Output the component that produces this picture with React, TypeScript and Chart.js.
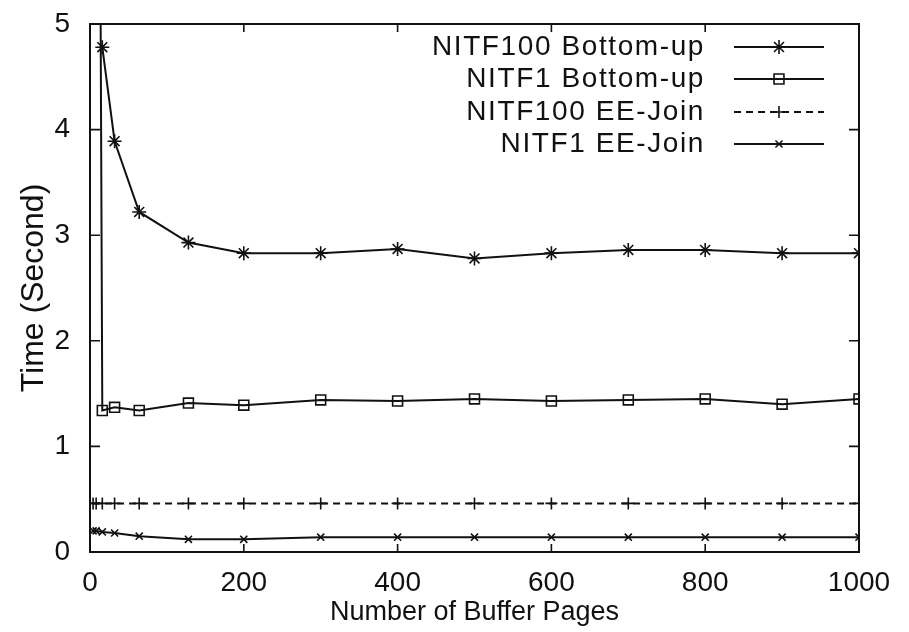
import React, { useEffect, useRef } from "react";
import { Chart, registerables } from "chart.js";

Chart.register(...registerables);

// ---- data ----
const xTickValues = [0, 200, 400, 600, 800, 1000];
const yTickValues = [0, 1, 2, 3, 4, 5];

const seriesLabels = [
  "NITF100 Bottom-up",
  "NITF1 Bottom-up",
  "NITF100 EE-Join",
  "NITF1 EE-Join",
];

const nitf100BottomUpX = [16, 32, 64, 128, 200, 300, 400, 500, 600, 700, 800, 900, 1000];
const nitf100BottomUpY = [4.78, 3.89, 3.22, 2.93, 2.83, 2.83, 2.87, 2.78, 2.83, 2.86, 2.86, 2.83, 2.83];

const nitf1BottomUpX = [8, 16, 32, 64, 128, 200, 300, 400, 500, 600, 700, 800, 900, 1000];
const nitf1BottomUpY = [15, 1.34, 1.37, 1.34, 1.41, 1.39, 1.44, 1.43, 1.45, 1.43, 1.44, 1.45, 1.4, 1.45];

const eeJoinX = [4, 8, 16, 32, 64, 128, 200, 300, 400, 500, 600, 700, 800, 900, 1000];
const nitf100EEJoinY = [0.46, 0.46, 0.46, 0.46, 0.46, 0.46, 0.46, 0.46, 0.46, 0.46, 0.46, 0.46, 0.46, 0.46, 0.46];
const nitf1EEJoinY = [0.2, 0.2, 0.19, 0.18, 0.15, 0.12, 0.12, 0.14, 0.14, 0.14, 0.14, 0.14, 0.14, 0.14, 0.14];

const xTitle = "Number of Buffer Pages";
const yTitle = "Time (Second)";

// ---- styles ----
const FONT = "'Liberation Sans', Arial, Helvetica, sans-serif";
const INK = "#111";
const W = 909;
const H = 632;
const AREA = { left: 90, right: 859, top: 24, bottom: 552 };

const pointStyles = ["star", "rect", "cross", "crossRot"] as const;
const pointRadii = [7, 7, 6, 5];
const dashes: number[][] = [[], [], [7, 5], []];

function pts(xs: number[], ys: number[]) {
  return xs.map((x, i) => ({ x, y: ys[i] }));
}

function drawMarker(ctx: CanvasRenderingContext2D, style: string, x: number, y: number, r: number) {
  ctx.beginPath();
  if (style === "star" || style === "cross") {
    ctx.moveTo(x - r, y);
    ctx.lineTo(x + r, y);
    ctx.moveTo(x, y - r);
    ctx.lineTo(x, y + r);
  }
  if (style === "star" || style === "crossRot") {
    const d = r * Math.SQRT1_2;
    ctx.moveTo(x - d, y - d);
    ctx.lineTo(x + d, y + d);
    ctx.moveTo(x - d, y + d);
    ctx.lineTo(x + d, y - d);
  }
  if (style === "rect") {
    const s = r * Math.SQRT1_2;
    ctx.rect(x - s, y - s, 2 * s, 2 * s);
  }
  ctx.stroke();
}

const framePlugin = {
  id: "gnuplotFrame",
  afterDatasetsDraw(chart: any) {
    const ctx: CanvasRenderingContext2D = chart.ctx;
    const { left, right, top, bottom } = chart.chartArea;
    const xs = chart.scales.x;
    const ys = chart.scales.y;
    ctx.save();
    ctx.strokeStyle = INK;
    ctx.lineWidth = 2;
    ctx.setLineDash([]);
    ctx.strokeRect(left, top, right - left, bottom - top);
    ctx.lineWidth = 1.6;
    ctx.beginPath();
    xTickValues.forEach((v) => {
      const px = xs.getPixelForValue(v);
      ctx.moveTo(px, bottom);
      ctx.lineTo(px, bottom - 8);
      ctx.moveTo(px, top);
      ctx.lineTo(px, top + 8);
    });
    yTickValues.forEach((v) => {
      const py = ys.getPixelForValue(v);
      ctx.moveTo(left, py);
      ctx.lineTo(left + 10, py);
      ctx.moveTo(right, py);
      ctx.lineTo(right - 10, py);
    });
    ctx.stroke();

    // legend (gnuplot style: text right-aligned, sample on the right)
    const rowY = [47, 79, 112, 144];
    ctx.font = `28px ${FONT}`;
    (ctx as any).letterSpacing = "1.6px";
    ctx.fillStyle = INK;
    ctx.textAlign = "right";
    ctx.textBaseline = "middle";
    seriesLabels.forEach((label, i) => {
      const y = rowY[i];
      ctx.fillText(label, 705, y);
      ctx.lineWidth = 2;
      ctx.setLineDash(dashes[i]);
      ctx.beginPath();
      ctx.moveTo(734, y);
      ctx.lineTo(824, y);
      ctx.stroke();
      ctx.setLineDash([]);
      ctx.lineWidth = 1.6;
      drawMarker(ctx, pointStyles[i], 779, y, pointRadii[i]);
    });
    ctx.restore();
  },
};

export default function App() {
  const ref = useRef<HTMLCanvasElement | null>(null);

  useEffect(() => {
    document.body.style.margin = "0";
    document.body.style.overflow = "hidden";
    const canvas = ref.current;
    if (!canvas) return;

    const allData = [
      pts(nitf100BottomUpX, nitf100BottomUpY),
      pts(nitf1BottomUpX, nitf1BottomUpY),
      pts(eeJoinX, nitf100EEJoinY),
      pts(eeJoinX, nitf1EEJoinY),
    ];

    const chart = new Chart(canvas, {
      type: "line",
      data: {
        datasets: allData.map((d, i) => ({
          label: seriesLabels[i],
          data: d,
          borderColor: INK,
          borderWidth: 2,
          borderDash: dashes[i],
          pointStyle: pointStyles[i],
          pointRadius: pointRadii[i],
          pointBorderWidth: 1.6,
          pointBorderColor: INK,
          pointBackgroundColor: "rgba(0,0,0,0)",
          fill: false,
          tension: 0,
        })),
      },
      options: {
        responsive: false,
        animation: false,
        events: [],
        layout: { padding: { left: 0, right: W - AREA.right, top: AREA.top, bottom: 0 } },
        plugins: {
          legend: { display: false },
          tooltip: { enabled: false },
        },
        scales: {
          x: {
            type: "linear",
            min: 0,
            max: 1000,
            afterFit: (s: any) => {
              s.height = H - AREA.bottom;
              s.paddingLeft = 0;
              s.paddingRight = 0;
              s.paddingTop = 0;
              s.paddingBottom = 0;
            },
            afterBuildTicks: (s: any) => {
              s.ticks = xTickValues.map((v) => ({ value: v }));
            },
            grid: { display: false, drawTicks: false },
            border: { display: false },
            ticks: {
              padding: 14,
              color: INK,
              font: { family: FONT, size: 28 },
              maxRotation: 0,
              callback: (v: any) => String(v),
            },
            title: {
              display: true,
              text: xTitle,
              color: INK,
              font: { family: FONT, size: 27 },
              padding: { top: 0, bottom: 3 },
            },
          },
          y: {
            type: "linear",
            min: 0,
            max: 5,
            afterFit: (s: any) => {
              s.width = AREA.left;
              s.paddingLeft = 0;
              s.paddingRight = 0;
              s.paddingTop = 0;
              s.paddingBottom = 0;
            },
            afterBuildTicks: (s: any) => {
              s.ticks = yTickValues.map((v) => ({ value: v }));
            },
            grid: { display: false, drawTicks: false },
            border: { display: false },
            ticks: {
              padding: 20,
              color: INK,
              font: { family: FONT, size: 28 },
              callback: (v: any) => String(v),
            },
            title: {
              display: true,
              text: yTitle,
              color: INK,
              font: { family: FONT, size: 32 },
              padding: { top: 15, bottom: 0 },
            },
          },
        },
      },
      plugins: [framePlugin],
    });

    return () => chart.destroy();
  }, []);

  return (
    <div style={{ width: W, height: H, background: "#fff" }}>
      <canvas ref={ref} width={W} height={H} style={{ display: "block" }} />
    </div>
  );
}
